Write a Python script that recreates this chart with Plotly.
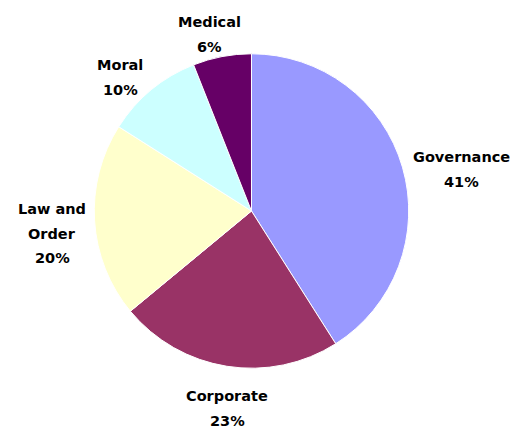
import plotly.graph_objects as go

labels = ["Governance", "Corporate", "Law and Order", "Moral", "Medical"]
values = [41, 23, 20, 10, 6]
label_lines = [["Governance"], ["Corporate"], ["Law and", "Order"], ["Moral"], ["Medical"]]
colors = ["#9999FF", "#993366", "#FFFFCC", "#CCFFFF", "#660066"]

W, H = 518, 428
# label anchor (center x, first-line y) in pixels, and line spacing
label_pos = [(461, 157), (227, 396), (52, 209), (120, 65), (209, 22)]
line_gap = 24.5

fig = go.Figure(go.Pie(
    labels=labels,
    values=values,
    textinfo="none",
    sort=False,
    direction="clockwise",
    rotation=0,
    marker=dict(colors=colors, line=dict(color="white", width=1)),
    domain=dict(x=[0.182, 0.789], y=[0.136, 0.878]),
    showlegend=False,
    hoverinfo="label+percent",
))

total = sum(values)
annotations = []
for lines, v, (px, py) in zip(label_lines, values, label_pos):
    all_lines = lines + [f"{round(100 * v / total)}%"]
    for i, t in enumerate(all_lines):
        annotations.append(dict(
            x=px / W, y=1 - (py + i * line_gap) / H,
            xref="paper", yref="paper",
            text=t, showarrow=False,
            xanchor="center", yanchor="middle",
            font=dict(family="DejaVu Sans", size=14.5, color="black", weight="bold"),
        ))

fig.update_layout(
    width=W, height=H,
    margin=dict(l=0, r=0, t=0, b=0),
    paper_bgcolor="white",
    plot_bgcolor="white",
    annotations=annotations,
)
fig.write_html("out.html")
